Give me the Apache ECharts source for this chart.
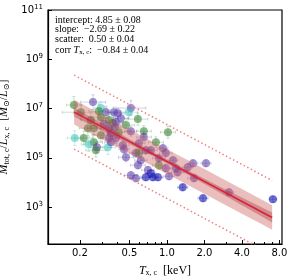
<!DOCTYPE html>
<html><head><meta charset="utf-8">
<script src="https://cdn.jsdelivr.net/npm/echarts@6/dist/echarts.min.js"></script>
<style>html,body{margin:0;padding:0;background:#fff}#c{width:291px;height:280px}</style>
</head><body><div id="c"></div>
<script>
// ---- data ----
const temperature = [0.179,0.255,0.295,0.284,0.324,0.204,0.375,0.295,0.342,0.312,
  0.368,0.389,0.232,0.259,0.342,0.382,0.355,0.411,0.182,0.215,
  0.342,0.389,0.259,0.236,0.274,0.269,0.336,0.355,0.514,0.495,
  0.585,0.404,0.469,0.653,1.02,0.514,0.653,0.596,0.816,0.443,
  0.452,0.564,0.596,0.678,0.929,0.98,0.585,0.862,0.704,0.98,
  0.744,0.772,0.514,0.678,0.847,1.04,1.18,1.22,1.47,1.62,
  2.06,1.65,1.34,1.95,3.15,7.10,0.744,0.862,0.618,1.12,
  0.469,0.295,0.245,0.427,0.564];
const logMassToLight = [7.14,7.26,7.02,6.89,6.85,6.85,6.85,6.65,6.53,6.37,
  6.41,6.45,6.20,6.20,6.20,6.24,6.00,6.04,5.80,5.80,
  5.80,5.80,5.63,5.55,5.43,5.31,5.43,5.63,7.02,6.85,
  6.57,6.81,6.33,6.08,6.04,6.08,5.84,5.59,5.63,5.51,
  5.35,5.19,5.19,5.31,5.39,5.19,4.70,4.70,4.50,4.58,
  4.37,4.21,4.29,4.21,4.21,4.25,4.58,4.41,4.62,4.78,
  4.78,4.17,3.80,3.36,3.60,3.32,5.31,4.98,4.90,4.90,
  5.02,5.92,6.53,6.61,4.17];
const pointGroup = ['g','p','t','g','p','g','p','g','g','p',
  'g','p','g','g','p','p','p','g','t','g',
  'p','p','g','t','p','g','t','p','p','t',
  'g','p','g','g','g','p','p','p','g','p',
  'p','p','g','p','p','p','p','g','p','p',
  'b','b','p','b','b','p','p','p','p','p',
  'p','p','b','b','p','b','p','p','p','p',
  'p','g','g','p','p'];
const tempErrDex = [0.06,0.10,0.05,0.08,0.06,0.15,0.05,0.07,0.06,0.05,
  0.08,0.06,0.07,0.05,0.06,0.05,0.06,0.09,0.06,0.07,
  0.05,0.06,0.07,0.06,0.05,0.08,0.06,0.05,0.12,0.07,
  0.08,0.05,0.07,0.06,0.06,0.05,0.06,0.05,0.06,0.05,
  0.04,0.05,0.06,0.05,0.04,0.05,0.06,0.05,0.05,0.04,
  0.04,0.04,0.05,0.04,0.04,0.04,0.04,0.05,0.04,0.04,
  0.04,0.05,0.04,0.04,0.04,0.03,0.05,0.05,0.05,0.04,
  0.06,0.07,0.08,0.06,0.05];
const ratioErrDex = [0.35,0.30,0.25,0.30,0.25,0.30,0.20,0.25,0.30,0.22,
  0.25,0.20,0.30,0.25,0.22,0.20,0.22,0.25,0.30,0.28,
  0.20,0.22,0.30,0.30,0.22,0.28,0.30,0.22,0.30,0.25,
  0.25,0.20,0.25,0.22,0.25,0.20,0.20,0.18,0.22,0.18,
  0.18,0.18,0.20,0.16,0.16,0.16,0.15,0.18,0.15,0.15,
  0.14,0.14,0.15,0.14,0.14,0.14,0.14,0.15,0.14,0.14,
  0.14,0.14,0.14,0.14,0.14,0.12,0.15,0.15,0.15,0.14,
  0.18,0.25,0.28,0.20,0.14];
const xTickValues = [0.2, 0.5, 1, 2, 4, 8];
const xMinorTickValues = [0.3,0.4,0.6,0.7,0.8,0.9,3,5,6,7];
const yTickExponents = [3, 5, 7, 9, 11];
// fit summary shown in the box
const fitIntercept = 4.85, fitInterceptErr = 0.08;
const fitSlope = -2.69, fitSlopeErr = 0.22;
const fitScatter = 0.50, fitScatterErr = 0.04;
const fitCorr = -0.84, fitCorrErr = 0.04;
const fitRangeT = [0.18, 7.0];
const fitSampleT = [0.18,0.25,0.35,0.5,0.7,1.0,1.4,2.0,2.8,4.0,5.6,7.0];

// ---- styling ----
const groupColor = {g:'rgba(50,125,45,0.7)', t:'rgba(60,195,185,0.68)', p:'rgba(80,50,160,0.66)', b:'rgba(22,22,178,0.76)'};
const groupErrColor = {g:'rgba(60,150,60,0.28)', t:'rgba(60,195,185,0.3)', p:'rgba(90,70,190,0.26)', b:'rgba(40,40,190,0.3)'};

const fitLog = T => fitIntercept + fitSlope * Math.log10(T);
const innerHalf = T => Math.sqrt(fitInterceptErr*fitInterceptErr + Math.pow(fitSlopeErr*Math.log10(T),2));

const pts = temperature.map((T,i)=>[T, Math.pow(10, logMassToLight[i]), tempErrDex[i], ratioErrDex[i], i]);

function bandItem(halfFn){
  return function(params, api){
    const upper = fitSampleT.map(T=>api.coord([T, Math.pow(10, fitLog(T)+halfFn(T))]));
    const lower = fitSampleT.slice().reverse().map(T=>api.coord([T, Math.pow(10, fitLog(T)-halfFn(T))]));
    return {type:'polygon', shape:{points: upper.concat(lower)}, style: api.style()};
  };
}

const serif = 'Liberation Serif, DejaVu Serif, serif';
const sans = 'DejaVu Sans, sans-serif';

const chart = echarts.init(document.getElementById('c'), null, {renderer:'canvas'});
chart.setOption({
  animation:false,
  backgroundColor:'#fff',
  grid:{left:48, right:9, top:10, bottom:36, containLabel:false, outerBoundsMode:'none',
    show:true, borderColor:'#000', borderWidth:1.2, backgroundColor:'transparent'},
  xAxis:[{
    type:'log', logBase:10, min:0.111, max:8.4,
    axisLine:{lineStyle:{color:'#000', width:1.2}},
    axisTick:{inside:true, length:4, customValues:xTickValues, lineStyle:{color:'#000'}},
    axisLabel:{customValues:xTickValues, formatter:v=>Number(v).toFixed(1), color:'#000', fontFamily:sans, fontSize:10, margin:4},
    splitLine:{show:false}, minorTick:{show:false},
    name:'{i|T}{s|x, c}{r|  [keV]}', nameLocation:'middle', nameGap:20,
    nameTextStyle:{rich:{
      i:{fontFamily:serif, fontStyle:'italic', fontSize:12, color:'#000'},
      s:{fontFamily:serif, fontSize:8, color:'#000', padding:[5,0,0,0]},
      r:{fontFamily:serif, fontSize:12, color:'#000'}
    }}
  },{
    type:'log', logBase:10, min:0.111, max:8.4, position:'bottom',
    axisLine:{show:false}, axisLabel:{show:false}, splitLine:{show:false},
    axisTick:{inside:true, length:2, customValues:xMinorTickValues, lineStyle:{color:'#000'}}
  }],
  yAxis:{
    type:'log', logBase:10, min:Math.pow(10,1.5), max:1e11,
    axisLine:{lineStyle:{color:'#000', width:1.2}},
    axisTick:{inside:true, length:4, customValues:yTickExponents.map(e=>Math.pow(10,e)), lineStyle:{color:'#000'}},
    axisLabel:{customValues:yTickExponents.map(e=>Math.pow(10,e)), showMaxLabel:true,
      formatter:v=>'{b|10}{s|'+Math.round(Math.log10(v))+'}', margin:5,
      rich:{b:{fontFamily:sans, fontSize:10, color:'#000'}, s:{fontFamily:sans, fontSize:7, color:'#000', padding:[0,0,6,0]}}},
    splitLine:{show:false},
    name:'{i|M}{s|tot, c}{r|/}{i|L}{s|x, c}{r|  [}{i|M}{s|⊙}{r|/}{i|L}{s|⊙}{r|]}',
    nameLocation:'middle', nameGap:28, nameRotate:90,
    nameTextStyle:{rich:{
      i:{fontFamily:serif, fontStyle:'italic', fontSize:12, color:'#000'},
      s:{fontFamily:serif, fontSize:8, color:'#000', padding:[5,0,0,0]},
      r:{fontFamily:serif, fontSize:12, color:'#000'}
    }}
  },
  series:[
    {type:'custom', name:'errors', clip:true, z:1, data:pts,
      renderItem:(params, api)=>{
        const T=api.value(0), Y=api.value(1), dx=api.value(2), dy=api.value(3);
        const c = groupErrColor[pointGroup[api.value(4)]];
        const L=api.coord([T*Math.pow(10,-dx),Y]), R=api.coord([T*Math.pow(10,dx),Y]);
        const B=api.coord([T,Y*Math.pow(10,-dy)]), U=api.coord([T,Y*Math.pow(10,dy)]);
        const st={stroke:c, lineWidth:1};
        const cap=1.5;
        return {type:'group', children:[
          {type:'line', shape:{x1:L[0],y1:L[1],x2:R[0],y2:R[1]}, style:st},
          {type:'line', shape:{x1:B[0],y1:B[1],x2:U[0],y2:U[1]}, style:st},
          {type:'line', shape:{x1:L[0],y1:L[1]-cap,x2:L[0],y2:L[1]+cap}, style:st},
          {type:'line', shape:{x1:R[0],y1:R[1]-cap,x2:R[0],y2:R[1]+cap}, style:st},
          {type:'line', shape:{x1:B[0]-cap,y1:B[1],x2:B[0]+cap,y2:B[1]}, style:st},
          {type:'line', shape:{x1:U[0]-cap,y1:U[1],x2:U[0]+cap,y2:U[1]}, style:st}
        ]};
      }},
    {type:'scatter', name:'clusters', z:2, symbolSize:8,
      data:pts.map(p=>({value:[p[0],p[1]], itemStyle:{color:groupColor[pointGroup[p[4]]]}}))},
    {type:'custom', name:'scatter band', clip:true, z:3, data:[[1,1]],
      itemStyle:{color:'rgba(205,92,92,0.4)'}, renderItem:bandItem(()=>fitScatter)},
    {type:'custom', name:'fit band', clip:true, z:4, data:[[1,1]],
      itemStyle:{color:'rgba(165,55,55,0.38)'}, renderItem:bandItem(innerHalf)},
    {type:'line', name:'fit', z:5, symbol:'none', clip:true,
      data:fitRangeT.map(T=>[T, Math.pow(10, fitLog(T))]),
      lineStyle:{color:'#dc1f3c', width:1.6}},
    {type:'line', name:'+3 sigma', z:5, symbol:'none', clip:true,
      data:fitRangeT.map(T=>[T, Math.pow(10, fitLog(T)+3*fitScatter)]),
      lineStyle:{color:'#f08080', width:1.5, type:[1.5,2.5]}},
    {type:'line', name:'-3 sigma', z:5, symbol:'none', clip:true,
      data:fitRangeT.map(T=>[T, Math.pow(10, fitLog(T)-3*fitScatter)]),
      lineStyle:{color:'#f08080', width:1.5, type:[1.5,2.5]}}
  ],
  graphic:[{
    type:'text', left:55, top:15, z:10,
    style:{
      text:[
        '{r|intercept: '+fitIntercept.toFixed(2)+' ± '+fitInterceptErr.toFixed(2)+'}',
        '{r|slope:  −'+Math.abs(fitSlope).toFixed(2)+' ± '+fitSlopeErr.toFixed(2)+'}',
        '{r|scatter:  '+fitScatter.toFixed(2)+' ± '+fitScatterErr.toFixed(2)+'}',
        '{r|corr }{i|T}{s|x, c}{r|:  −'+Math.abs(fitCorr).toFixed(2)+' ± '+fitCorrErr.toFixed(2)+'}'
      ].join('\n'),
      rich:{
        r:{fontFamily:serif, fontSize:10, fill:'#000', lineHeight:9.8},
        i:{fontFamily:serif, fontStyle:'italic', fontSize:10, fill:'#000', lineHeight:9.8},
        s:{fontFamily:serif, fontSize:7, fill:'#000', padding:[4,0,0,0]}
      }
    }
  }]
});
</script></body></html>
